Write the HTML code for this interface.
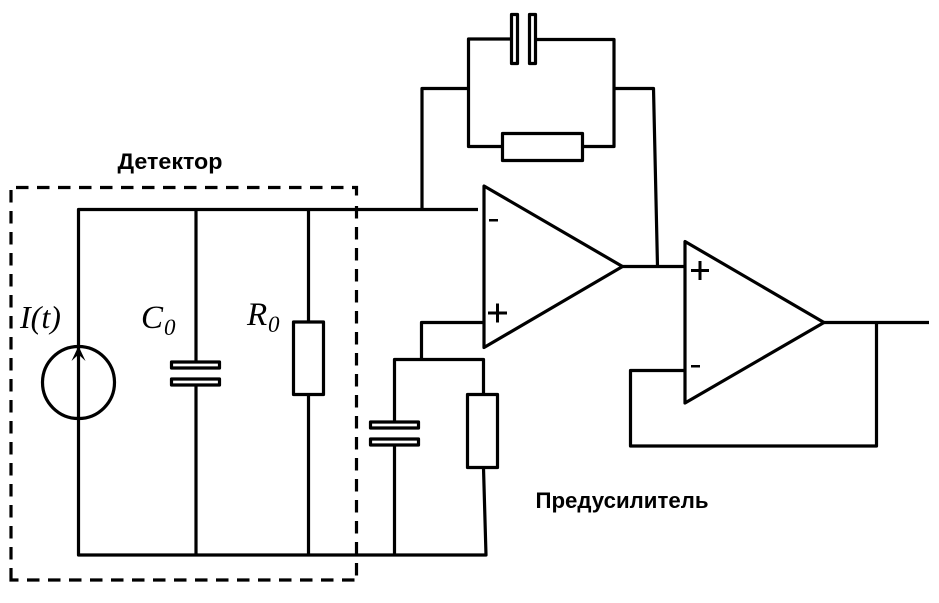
<!DOCTYPE html>
<html>
<head>
<meta charset="utf-8">
<style>
html,body{margin:0;padding:0;background:#fff;}
svg{display:block;}
</style>
</head>
<body>
<svg width="939" height="603" viewBox="0 0 939 603" xmlns="http://www.w3.org/2000/svg">
<rect width="939" height="603" fill="#fff"/>
<g fill="none" stroke="#000" stroke-width="3.2" stroke-linejoin="round">
<!-- dashed box -->
<g stroke-dasharray="12.500 8.500" stroke-linejoin="miter">
<path d="M16 187.500H356.500V196"/>
<path d="M356.500 206V580"/>
<path d="M27 580H356"/>
<path d="M11 190V560"/>
</g>
<path d="M11 568V580H18.500" stroke-linejoin="miter"/>
<!-- detector -->
<path d="M478 209.500H78.500V555H486L483.500 468"/>
<path d="M196 209.500V362M196 384.500V555"/>
<path d="M308.500 209.500V322M308.500 395V555"/>
<circle cx="78.500" cy="382.500" r="36"/>
<!-- op amp 1 -->
<path d="M484 186V347.500L622.500 266.500Z"/>
<!-- feedback -->
<path d="M422 209.500V88.500H468.500"/>
<path d="M511 39H468.500V146.500H502.500"/>
<path d="M535 39.500H614V146.500H583"/>
<path d="M614 88.500H653.500L657.500 266.500"/>
<rect x="511.500" y="14.500" width="6" height="49"/>
<rect x="529.500" y="14.500" width="6" height="49"/>
<rect x="502.500" y="133.500" width="80" height="27"/>
<rect x="171.500" y="362" width="48" height="6"/>
<rect x="171.500" y="379" width="48" height="6"/>
<rect x="293.500" y="322" width="30" height="72.500"/>
<!-- plus input network -->
<path d="M484 322.500H421.500V359.500"/>
<path d="M394.500 422V359.500H483.500V394"/>
<path d="M394.500 445V555"/>
<rect x="370.500" y="422" width="48" height="6"/>
<rect x="370.500" y="439" width="48" height="6"/>
<rect x="467.500" y="394.500" width="30" height="73"/>
<!-- op amp 2 -->
<path d="M622.500 266.500H685"/>
<path d="M685 241.500V403L824 322.500Z"/>
<path d="M824 322.500H929"/>
<path d="M685 370.500H630.500V446H876.500V322.500"/>
</g>
<!-- arrowhead -->
<path d="M71.500 361L78.500 346L85.500 361L78.500 354.500Z" fill="#000"/>
<!-- signs -->
<g fill="#000">
<rect x="489" y="219" width="9" height="2.500"/>
<rect x="488" y="311.500" width="19" height="3"/>
<rect x="496" y="303.500" width="3" height="19"/>
<rect x="691" y="269" width="18" height="3"/>
<rect x="698.500" y="261" width="3" height="19"/>
<rect x="691" y="365" width="9" height="2.500"/>
</g>
<!-- labels -->
<g font-family="'Liberation Sans',sans-serif" font-weight="bold" font-size="22" fill="#000">
<text x="117.500" y="169" textLength="105" lengthAdjust="spacingAndGlyphs">Детектор</text>
<text x="535.500" y="508" textLength="173" lengthAdjust="spacingAndGlyphs">Предусилитель</text>
</g>
<g font-family="'Liberation Serif',serif" font-style="italic" fill="#000">
<text x="20" y="328" font-size="32">I(t)</text>
<text x="141" y="328" font-size="33">C</text>
<text x="164" y="335" font-size="23">0</text>
<text x="247" y="325" font-size="33">R</text>
<text x="268" y="332" font-size="23">0</text>
</g>
</svg>
</body>
</html>
